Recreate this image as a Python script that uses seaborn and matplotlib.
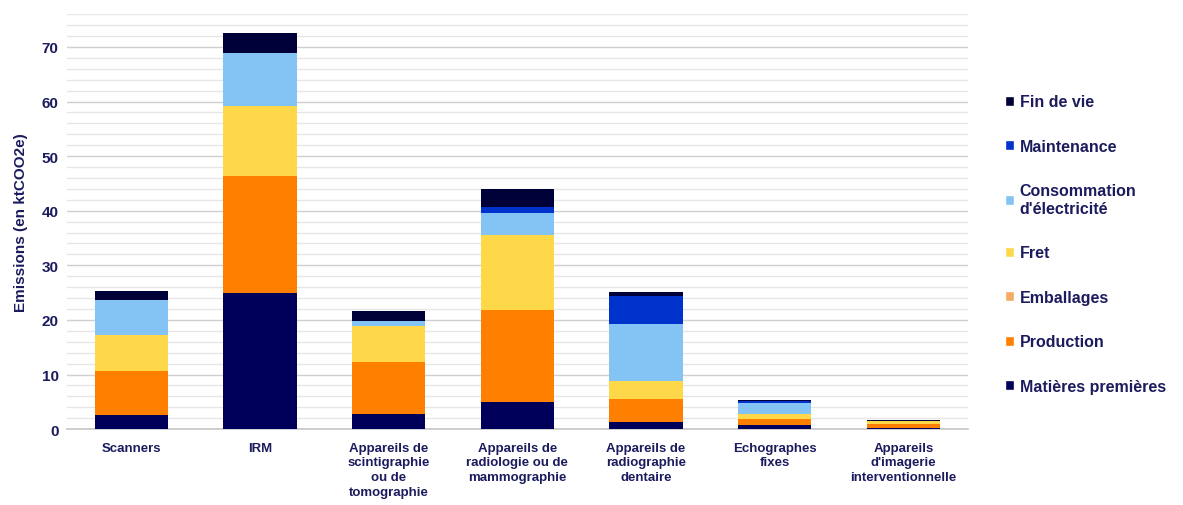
import matplotlib
matplotlib.use("Agg")
import matplotlib.pyplot as plt
from matplotlib.patches import Patch
from matplotlib.ticker import MultipleLocator
import numpy as np
import pandas as pd
import seaborn as sns

categories = [
    "Scanners", "IRM", "Appareils de\nscintigraphie\nou de\ntomographie",
    "Appareils de\nradiologie ou de\nmammographie", "Appareils de\nradiographie\ndentaire",
    "Echographes\nfixes", "Appareils\nd'imagerie\ninterventionnelle",
]
# bottom to top
postes = ["Matières premières", "Production", "Emballages", "Fret",
          "Consommation\nd'électricité", "Maintenance", "Fin de vie"]
matieres = [2.6, 24.9, 2.7, 4.9, 1.3, 0.7, 0.15]
production = [8.0, 21.4, 9.5, 16.9, 4.3, 1.2, 0.8]
emballages = [0.0, 0.0, 0.0, 0.0, 0.0, 0.0, 0.0]
fret = [6.6, 12.9, 6.7, 13.8, 3.2, 0.8, 0.45]
electricite = [6.4, 9.7, 0.9, 4.0, 10.5, 2.0, 0.05]
maintenance = [0.0, 0.0, 0.0, 1.1, 5.1, 0.4, 0.0]
fin_de_vie = [1.7, 3.7, 1.8, 3.2, 0.7, 0.2, 0.3]
couleurs = ["#00005a", "#ff8000", "#f7aa62", "#ffd84a", "#84c4f4", "#0033cc", "#000038"]

series = [matieres, production, emballages, fret, electricite, maintenance, fin_de_vie]
df = pd.DataFrame({p: v for p, v in zip(postes, series)}, index=categories)
cumul = df.cumsum(axis=1)

sns.set_theme(style="white")
plt.rcParams["font.family"] = ["Liberation Sans", "DejaVu Sans"]
texte = "#1b1b5e"

fig = plt.figure(figsize=(11.83, 5.06), dpi=100)
ax = fig.add_axes([0.0566, 0.150, 0.7614, 0.820])

for poste, couleur in reversed(list(zip(postes, couleurs))):
    sns.barplot(x=categories, y=cumul[poste].values, color=couleur, saturation=1,
                width=0.57, ax=ax, zorder=3, linewidth=0)

ax.set_ylim(0, 76)
ax.set_xlim(-0.5, 6.5)
ax.yaxis.set_major_locator(MultipleLocator(10))
ax.yaxis.set_minor_locator(MultipleLocator(2))
ax.grid(axis="y", which="major", color="#cfcfcf", lw=1.0, zorder=0)
ax.grid(axis="y", which="minor", color="#e6e6e6", lw=1.0, zorder=0)
ax.set_axisbelow(True)
for s in ["top", "right", "left"]:
    ax.spines[s].set_visible(False)
ax.spines["bottom"].set_color("#c8c8c8")
ax.tick_params(axis="y", length=0, pad=6)
ax.tick_params(axis="x", length=0, pad=9)
ax.tick_params(axis="y", which="minor", length=0)
plt.setp(ax.get_yticklabels(), fontweight="bold", fontsize=11, color=texte)
ax.set_xticks(range(len(categories)))
ax.set_xticklabels(categories, fontweight="bold", fontsize=9.5, color=texte,
                   linespacing=1.3, va="top")
ax.set_ylabel("Emissions (en ktCOO2e)", fontweight="bold", fontsize=11, color=texte, labelpad=10)

handles = [Patch(facecolor=c, label=p) for p, c in zip(postes, couleurs)][::-1]
leg = fig.legend(handles=handles, loc="upper left", bbox_to_anchor=(0.837, 0.84),
                 frameon=False, handlelength=0.6, handleheight=0.6, handletextpad=0.35,
                 labelspacing=1.85, prop={"weight": "bold", "size": 11.5})
for t in leg.get_texts():
    t.set_color(texte)

fig.savefig("out.png", dpi=100)
